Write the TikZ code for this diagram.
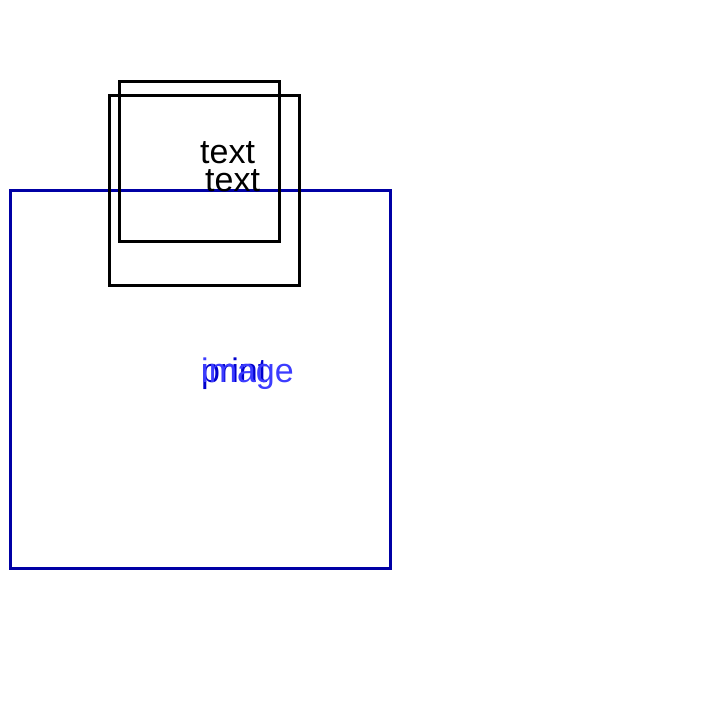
\documentclass[tikz,border=0pt]{standalone}
\usepackage{fontspec}
\setmainfont{Liberation Sans}
\usepackage{tikz}
\definecolor{frameblue}{RGB}{0,0,165}
\definecolor{printblue}{RGB}{0,0,205}
\definecolor{imageblue}{RGB}{60,60,255}
\tikzset{
  box/.style={line width=3pt,draw=black},
  label/.style={anchor=base west,inner sep=0pt,font=\fontsize{34}{40}\selectfont},
}
\begin{document}
\begin{tikzpicture}[x=1pt,y=-1pt]
      \useasboundingbox (0,0) rectangle (720,720);
      \draw[line width=3pt,draw=frameblue] (10,190) rectangle (390,568);
      \draw[box] (119,81) rectangle (279,241);
      \draw[box] (109,95) rectangle (299,285);
      \node[label] (text1) at (200,163) {text};
      \node[label] (text2) at (205,191) {text};
      \node[label,text=printblue] (print) at (201,382) {print};
      \node[label,text=imageblue] (image) at (201,382) {image};
    \end{tikzpicture}
\end{document}
